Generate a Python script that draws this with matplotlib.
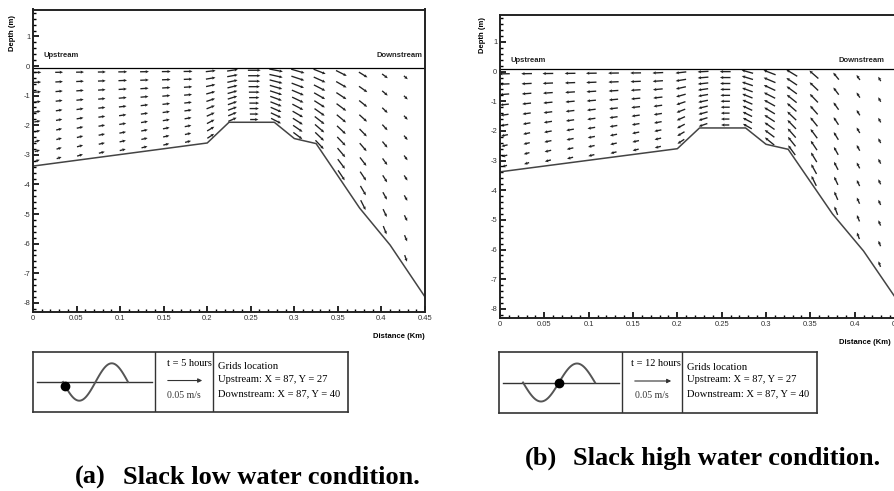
import numpy as np
import matplotlib.pyplot as plt

plt.rcParams['axes.unicode_minus'] = False

W, H = 894, 491

# bed profile (distance km, depth m)
bed_x = [0.0, 0.200, 0.225, 0.277, 0.300, 0.325, 0.375, 0.410, 0.450]
bed_z = [-3.38, -2.60, -1.90, -1.90, -2.45, -2.62, -4.80, -6.05, -7.80]

# grid columns of the velocity field
col_x = [0.005, 0.030, 0.054, 0.079, 0.103, 0.128, 0.153, 0.178, 0.204,
         0.229, 0.254, 0.279, 0.304, 0.329, 0.354, 0.379, 0.404, 0.428]
n_layers = 10

# (a) slack low water, t = 5 hours
surf_a = -0.05
ang_top_a = [0, 0, 0, 0, 0, 0, 0, 0, 5, 8, 0, -10, -15, -20, -25, -30, -35, -40]
ang_bot_a = [20, 20, 18, 15, 15, 15, 15, 15, 35, 25, 0, -28, -38, -48, -58, -65, -70, -72]
len_top_a = [8, 8, 8, 8, 9, 9, 9, 9, 10, 11, 13, 14, 14, 13, 12, 10, 7, 5]
len_bot_a = [5, 5, 6, 6, 6, 6, 6, 6, 8, 9, 8, 11, 11, 12, 12, 11, 9, 7]

# (b) slack high water, t = 12 hours
surf_b = 0.10
ang_top_b = [180, 180, 180, 180, 180, 180, 180, 182, 185, 182, 180, 165, 160, 150, 140, 130, 125, 120]
ang_bot_b = [198, 198, 196, 195, 195, 195, 195, 195, 215, 200, 180, 150, 140, 125, 115, 110, 110, 110]
len_top_b = [11, 11, 11, 11, 11, 11, 11, 11, 11, 11, 11, 12, 13, 13, 12, 9, 6, 5]
len_bot_b = [5, 5, 6, 6, 6, 6, 6, 6, 8, 9, 8, 10, 12, 12, 11, 9, 7, 6]

x_ticks = [0, 0.05, 0.1, 0.15, 0.2, 0.25, 0.3, 0.35, 0.4, 0.45]
x_labels = ['0', '0.05', '0.1', '0.15', '0.2', '0.25', '0.3', '0.35', '0.4', '0.45']
y_ticks = [1, 0, -1, -2, -3, -4, -5, -6, -7, -8]

fig = plt.figure(figsize=(W / 100, H / 100), dpi=100)


def px_axes(l, t, r, b):
    return fig.add_axes([l / W, 1 - b / H, (r - l) / W, (b - t) / H])


def draw_panel(ax, surf, ang_top, ang_bot, len_top, len_bot):
    ax.set_xlim(0, 0.45)
    ax.set_ylim(-8.31, 1.91)
    # bed and water surface
    ax.plot(bed_x, bed_z, color='#444444', lw=1.1)
    ax.plot([0, 0.45], [surf, surf], color='black', lw=0.9)
    # sigma-layer velocity vectors
    X, Z, L, A = [], [], [], []
    for i, xc in enumerate(col_x):
        zb = np.interp(xc, bed_x, bed_z)
        for k in range(n_layers):
            s = (k + 0.5) / n_layers
            X.append(xc)
            Z.append(surf - s * (surf - zb))
            L.append(len_top[i] + s * (len_bot[i] - len_top[i]))
            A.append(ang_top[i] + s * (ang_bot[i] - ang_top[i]))
    L = np.array(L)
    ax.quiver(X, Z, L, np.zeros_like(L), angles=np.array(A),
              scale_units='inches', scale=100, pivot='middle',
              width=0.0034, headwidth=2.4, headlength=2.6, headaxislength=2.2,
              color='#222222')
    ax.set_xticks(x_ticks)
    ax.set_xticklabels(x_labels)
    ax.set_yticks(y_ticks)
    ax.set_xticks(np.arange(0, 0.451, 0.01), minor=True)
    ax.set_yticks(np.arange(-8.2, 1.81, 0.2), minor=True)
    ax.tick_params(which='both', direction='in', top=False, right=False,
                   labelsize=5.5, labelcolor='#333333', pad=2, width=1)
    ax.tick_params(which='major', length=4, width=1.2)
    ax.tick_params(which='minor', length=2)
    for lab in ax.get_xticklabels() + ax.get_yticklabels():
        lab.set_family('Liberation Sans')
    for sp in ax.spines.values():
        sp.set_linewidth(1.4)
        sp.set_color('#222222')
    ax.text(0.012, 0.25, 'Upstream', fontsize=5.5, fontweight='bold',
            family='Liberation Sans', color='#222222', va='bottom')


def draw_key(ax, l, r, d1, d2, wave_x0, wave_x1, dot_frac, t_text):
    ax.set_xlim(l, r)
    ax.set_ylim(413, 352)
    ax.set_xticks([])
    ax.set_yticks([])
    for sp in ax.spines.values():
        sp.set_linewidth(1.2)
        sp.set_color('#333333')
    ax.axvline(d1, color='#333333', lw=1.0)
    ax.axvline(d2, color='#333333', lw=1.0)
    # tide schematic
    ax.plot([l + 4, d1 - 3], [382.5, 382.5], color='#333333', lw=1.0)
    tt = np.linspace(0, 1, 100)
    wx = wave_x0 + (wave_x1 - wave_x0) * tt
    wy = 382.5 + 19 * np.sin(2 * np.pi * tt)
    ax.plot(wx, wy, color='#555555', lw=1.4)
    dx = wave_x0 + (wave_x1 - wave_x0) * dot_frac
    dy = 382.5 + 19 * np.sin(2 * np.pi * dot_frac)
    ax.plot([dx], [dy], 'o', color='black', ms=6)
    # velocity scale
    ax.text(d2 - 1, 364, t_text, ha='right', va='center', fontsize=7.5,
            family='Liberation Serif')
    ax.annotate('', xy=(d2 - 8, 381), xytext=(d1 + 10, 381),
                arrowprops=dict(arrowstyle='-|>', color='#333333', lw=0.8,
                                mutation_scale=6))
    ax.text((d1 + d2) / 2, 396, '0.05 m/s', ha='center', va='center',
            fontsize=7, family='Liberation Serif', color='#333333')
    ax.text(d2 + 5, 367, 'Grids location', va='center', fontsize=7.6,
            family='Liberation Serif')
    ax.text(d2 + 5, 380, 'Upstream: X = 87, Y = 27', va='center', fontsize=7.6,
            family='Liberation Serif')
    ax.text(d2 + 5, 394, 'Downstream: X = 87, Y = 40', va='center',
            fontsize=7.6, family='Liberation Serif')


# panel (a)
ax_a = px_axes(33, 9.5, 425, 312)
draw_panel(ax_a, surf_a, ang_top_a, ang_bot_a, len_top_a, len_bot_a)
ax_a.text(0.447, 0.25, 'Downstream', ha='right', fontsize=5.5,
          fontweight='bold', family='Liberation Sans', color='#222222',
          va='bottom')
fig.text(13 / W, 1 - 33 / H, 'Depth (m)', rotation=90, ha='center',
         va='center', fontsize=5.5, fontweight='bold', family='Liberation Sans')
fig.text(425 / W, 1 - 336 / H, 'Distance (Km)', ha='right', va='center',
         fontsize=5.5, fontweight='bold', family='Liberation Sans')

# panel (b)
ax_b = px_axes(500, 15, 899, 318)
draw_panel(ax_b, surf_b, ang_top_b, ang_bot_b, len_top_b, len_bot_b)
ax_b.text(0.382, 0.25, 'Downstream', fontsize=5.5, fontweight='bold',
          family='Liberation Sans', color='#222222', va='bottom')
fig.text(482 / W, 1 - 35 / H, 'Depth (m)', rotation=90, ha='center',
         va='center', fontsize=5.5, fontweight='bold', family='Liberation Sans')
fig.text(891 / W, 1 - 342 / H, 'Distance (Km)', ha='right', va='center',
         fontsize=5.5, fontweight='bold', family='Liberation Sans')

# keys
key_a = px_axes(33, 352, 348, 412)
draw_key(key_a, 33, 348, 155, 213, 63, 128, 0.03, 't = 5 hours')
key_b = px_axes(499, 352, 817, 413)
draw_key(key_b, 499, 817, 622, 682, 523, 595, 0.5, 't = 12 hours')

# captions
cap = dict(fontsize=19, fontweight='bold', family='Liberation Serif',
           va='baseline', ha='left')
fig.text(75 / W, 1 - 484 / H, '(a)', **cap)
fig.text(123 / W, 1 - 484 / H, 'Slack low water condition.', **cap)
fig.text(525 / W, 1 - 465 / H, '(b)', **cap)
fig.text(573 / W, 1 - 465 / H, 'Slack high water condition.', **cap)

fig.savefig('out.png', dpi=100)
